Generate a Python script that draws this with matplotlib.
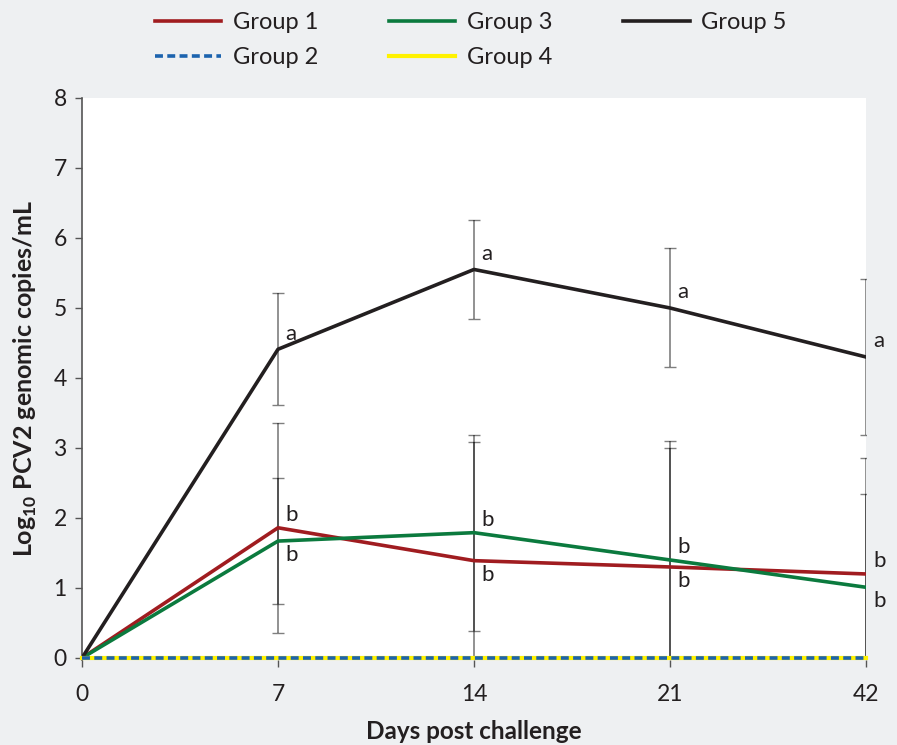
import numpy as np
import matplotlib.pyplot as plt

# viral load per group, log10 PCV2 copies/mL
days = ['0', '7', '14', '21', '42']
group1 = [0, 1.86, 1.39, 1.30, 1.20]
group1_err = [0, 1.50, 1.70, 1.80, 1.66]
group2 = [0, 0, 0, 0, 0]
group3 = [0, 1.67, 1.79, 1.40, 1.01]
group3_err = [0, 0.90, 1.40, 1.60, 1.33]
group4 = [0, 0, 0, 0, 0]
group5 = [0, 4.41, 5.55, 5.00, 4.30]
group5_err = [0, 0.80, 0.71, 0.85, 1.12]

letters5 = ['', 'a', 'a', 'a', 'a']
letters1 = ['', 'b', 'b', 'b', 'b']
letters3 = ['', 'b', 'b', 'b', 'b']

plt.rcParams['font.family'] = ['Lato', 'DejaVu Sans']
plt.rcParams['mathtext.fontset'] = 'custom'
plt.rcParams['mathtext.rm'] = 'Lato'
plt.rcParams['mathtext.bf'] = 'Lato:bold'

bg = '#eef0f2'
red = '#a01c20'
green = '#0b7a3e'
black = '#231f20'
blue = '#1c63ae'
yellow = '#fff200'

fig = plt.figure(figsize=(8.97, 7.45), dpi=100, facecolor=bg)
ax = fig.add_axes([0.0914, 0.114, 0.8740, 0.7545])
ax.set_facecolor('white')

x = np.arange(len(days))


def draw_err(vals, errs):
    vals = np.array(vals[1:])
    errs = np.array(errs[1:])
    lower = np.minimum(errs, vals)
    ax.errorbar(x[1:], vals, yerr=[lower, errs], fmt='none', ecolor='k',
                alpha=0.5, elinewidth=1.2, capsize=4, capthick=1.0, zorder=2)


draw_err(group5, group5_err)
draw_err(group1, group1_err)
draw_err(group3, group3_err)

l1, = ax.plot(x, group1, color=red, lw=2.6, label='Group 1', zorder=4)
l3, = ax.plot(x, group3, color=green, lw=2.6, label='Group 3', zorder=4)
l5, = ax.plot(x, group5, color=black, lw=2.6, label='Group 5', zorder=4)
l4, = ax.plot(x, group4, color=yellow, lw=3.0, label='Group 4', zorder=5,
              clip_on=False)
l2, = ax.plot(x, group2, color=blue, lw=2.6, ls=(0, (2.2, 1.2)),
              label='Group 2', zorder=6, clip_on=False)

# significance letters beside each point
for i in range(1, len(days)):
    ax.annotate(letters5[i], (x[i], group5[i]), xytext=(5, 4),
                textcoords='offset points', fontsize=16, color=black,
                va='bottom', ha='left')
    hi, lo = (group1, group3) if group1[i] >= group3[i] else (group3, group1)
    ax.annotate(letters1[i], (x[i], hi[i]), xytext=(5, 2),
                textcoords='offset points', fontsize=16, color=black,
                va='bottom', ha='left')
    ax.annotate(letters3[i], (x[i], lo[i]), xytext=(5, -3),
                textcoords='offset points', fontsize=16, color=black,
                va='top', ha='left')

ax.set_xlim(0, len(days) - 1)
ax.set_ylim(-0.03, 8)
ax.set_xticks(x)
ax.set_xticklabels(days)
ax.set_yticks(range(0, 9))

for side in ['top', 'right', 'bottom']:
    ax.spines[side].set_visible(False)
ax.spines['left'].set_color('#555555')
ax.spines['left'].set_linewidth(1.2)
ax.tick_params(axis='both', labelsize=16.5, colors='#555555', labelcolor='#231f20',
               length=5, width=1.0)
ax.tick_params(axis='x', pad=12)
ax.tick_params(axis='y', pad=6)

ax.set_xlabel('Days post challenge', fontsize=17.5, fontweight='bold',
              color='#231f20', labelpad=11)
ax.set_ylabel(r'Log$_{\mathbf{10}}$ PCV2 genomic copies/mL', fontsize=18,
              fontweight='bold', color='#231f20', labelpad=10)

leg = fig.legend(handles=[l1, l2, l3, l4, l5], ncol=3, loc='upper center',
                 bbox_to_anchor=(0.525, 1.012), frameon=False, fontsize=17,
                 handlelength=2.8, columnspacing=3.0, labelspacing=0.6,
                 handletextpad=0.5)
for t in leg.get_texts():
    t.set_color('#231f20')

fig.savefig('out.png', dpi=100, facecolor=bg)
